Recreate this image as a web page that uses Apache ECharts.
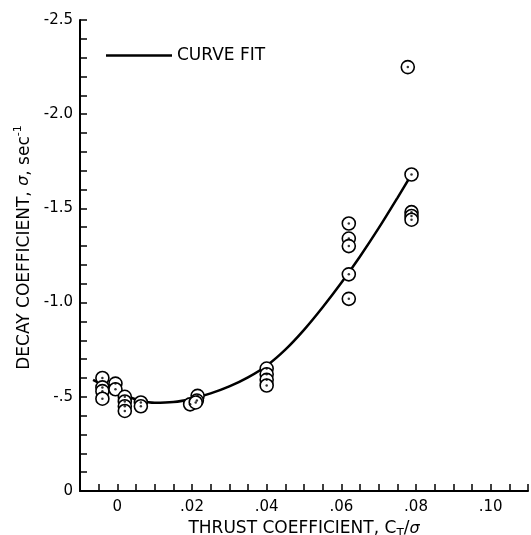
<!DOCTYPE html>
<html>
<head>
<meta charset="utf-8">
<script src="https://cdn.jsdelivr.net/npm/echarts@6/dist/echarts.min.js"></script>
<style>
  html, body { margin: 0; padding: 0; background: #fff; }
  #chart { width: 531px; height: 535px; }
</style>
</head>
<body>
<div id="chart"></div>
<script>
// Measured points: thrust coefficient CT/sigma and decay coefficient (sec^-1)
const pointThrust = [
  -0.004, -0.004, -0.004, -0.004,
  -0.0005, -0.0005,
  0.002, 0.002, 0.002, 0.002,
  0.0063, 0.0063,
  0.0195, 0.0215, 0.0213, 0.021,
  0.040, 0.040, 0.040, 0.040,
  0.062, 0.062, 0.062, 0.062, 0.062,
  0.0778,
  0.0788, 0.0788, 0.0788, 0.0788
];
const pointDecay = [
  -0.60, -0.55, -0.53, -0.49,
  -0.57, -0.54,
  -0.50, -0.475, -0.45, -0.425,
  -0.47, -0.45,
  -0.46, -0.505, -0.48, -0.47,
  -0.65, -0.62, -0.59, -0.56,
  -1.42, -1.34, -1.30, -1.15, -1.02,
  -2.25,
  -1.68, -1.48, -1.46, -1.44
];

// Curve fit through the measurements
const fitThrust = [-0.0065, -0.004, 0, 0.003, 0.006, 0.01, 0.015, 0.02, 0.025, 0.03, 0.035, 0.04, 0.045, 0.05, 0.055, 0.06, 0.065, 0.07, 0.075, 0.0788];
const fitDecay  = [-0.59, -0.565, -0.525, -0.50, -0.48, -0.468, -0.472, -0.49, -0.518, -0.555, -0.603, -0.665, -0.75, -0.855, -0.975, -1.105, -1.245, -1.395, -1.555, -1.68];

// Tick labels
const xTickValues = [0, 0.02, 0.04, 0.06, 0.08, 0.10];
const xTickTexts  = ['0', '.02', '.04', '.06', '.08', '.10'];
const yTickValues = [-2.5, -2.0, -1.5, -1.0, -0.5, 0];
const yTickTexts  = ['-2.5', '-2.0', '-1.5', '-1.0', '-.5', '0'];

function tickText(values, texts) {
  return function (v) {
    for (let i = 0; i < values.length; i++) {
      if (Math.abs(v - values[i]) < 1e-7) return texts[i];
    }
    return '';
  };
}

const FONT = 'DejaVu Sans';
const points = pointThrust.map((x, i) => [x, pointDecay[i]]);
const fit = fitThrust.map((x, i) => [x, fitDecay[i]]);

const chart = echarts.init(document.getElementById('chart'), null, { renderer: 'canvas' });
chart.setOption({
  backgroundColor: '#fff',
  animation: false,
  grid: { left: 80, right: 3, top: 20, bottom: 44, containLabel: false, outerBoundsMode: 'none' },
  legend: {
    data: [{ name: 'CURVE FIT', icon: 'rect' }],
    left: 101, top: 42,
    itemWidth: 66, itemHeight: 2.5,
    itemStyle: { color: '#000' },
    textStyle: { fontFamily: FONT, fontSize: 17, color: '#000' }
  },
  xAxis: {
    type: 'value',
    min: -0.01, max: 0.11, interval: 0.005,
    splitLine: { show: false },
    axisLine: { onZero: false, lineStyle: { color: '#000', width: 2 } },
    axisTick: { inside: true, length: 7, lineStyle: { color: '#000', width: 1.5 } },
    axisLabel: { formatter: tickText(xTickValues, xTickTexts), margin: 9, color: '#000', fontFamily: FONT, fontSize: 15 },
    name: 'THRUST COEFFICIENT, C{sub|T}/{i|σ}',
    nameLocation: 'middle', nameGap: 23,
    nameTextStyle: {
      fontFamily: FONT, fontSize: 17, color: '#000',
      rich: {
        sub: { fontFamily: FONT, fontSize: 12, color: '#000', padding: [10, 0, 0, 0] },
        i: { fontFamily: FONT, fontSize: 16, fontStyle: 'italic', color: '#000' }
      }
    }
  },
  yAxis: {
    type: 'value', inverse: true,
    min: -2.5, max: 0, interval: 0.1,
    splitLine: { show: false },
    axisLine: { onZero: false, lineStyle: { color: '#000', width: 2 } },
    axisTick: { inside: true, length: 7, lineStyle: { color: '#000', width: 1.5 } },
    axisLabel: { formatter: tickText(yTickValues, yTickTexts), margin: 7, color: '#000', fontFamily: FONT, fontSize: 15 },
    name: 'DECAY COEFFICIENT, {i|σ}, sec{sup|-1}',
    nameLocation: 'middle', nameGap: 44,
    nameTextStyle: {
      fontFamily: FONT, fontSize: 17, color: '#000',
      padding: [0, 0, 0, 16],
      rich: {
        sup: { fontFamily: FONT, fontSize: 11, color: '#000', padding: [0, 0, 12, 0] },
        i: { fontFamily: FONT, fontSize: 16, fontStyle: 'italic', color: '#000' }
      }
    }
  },
  series: [
    {
      name: 'CURVE FIT',
      type: 'line',
      data: fit,
      smooth: 0.3,
      symbol: 'none',
      lineStyle: { color: '#000', width: 2.5 },
      itemStyle: { color: '#000' },
      z: 2
    },
    {
      name: 'measured',
      type: 'scatter',
      data: points,
      symbol: 'circle',
      symbolSize: 13,
      itemStyle: { color: '#fff', borderColor: '#000', borderWidth: 1.6, opacity: 1 },
      z: 3
    },
    {
      name: 'measured centre',
      type: 'scatter',
      data: points,
      symbol: 'circle',
      symbolSize: 2.5,
      itemStyle: { color: '#000' },
      z: 4
    }
  ]
});
</script>
</body>
</html>
